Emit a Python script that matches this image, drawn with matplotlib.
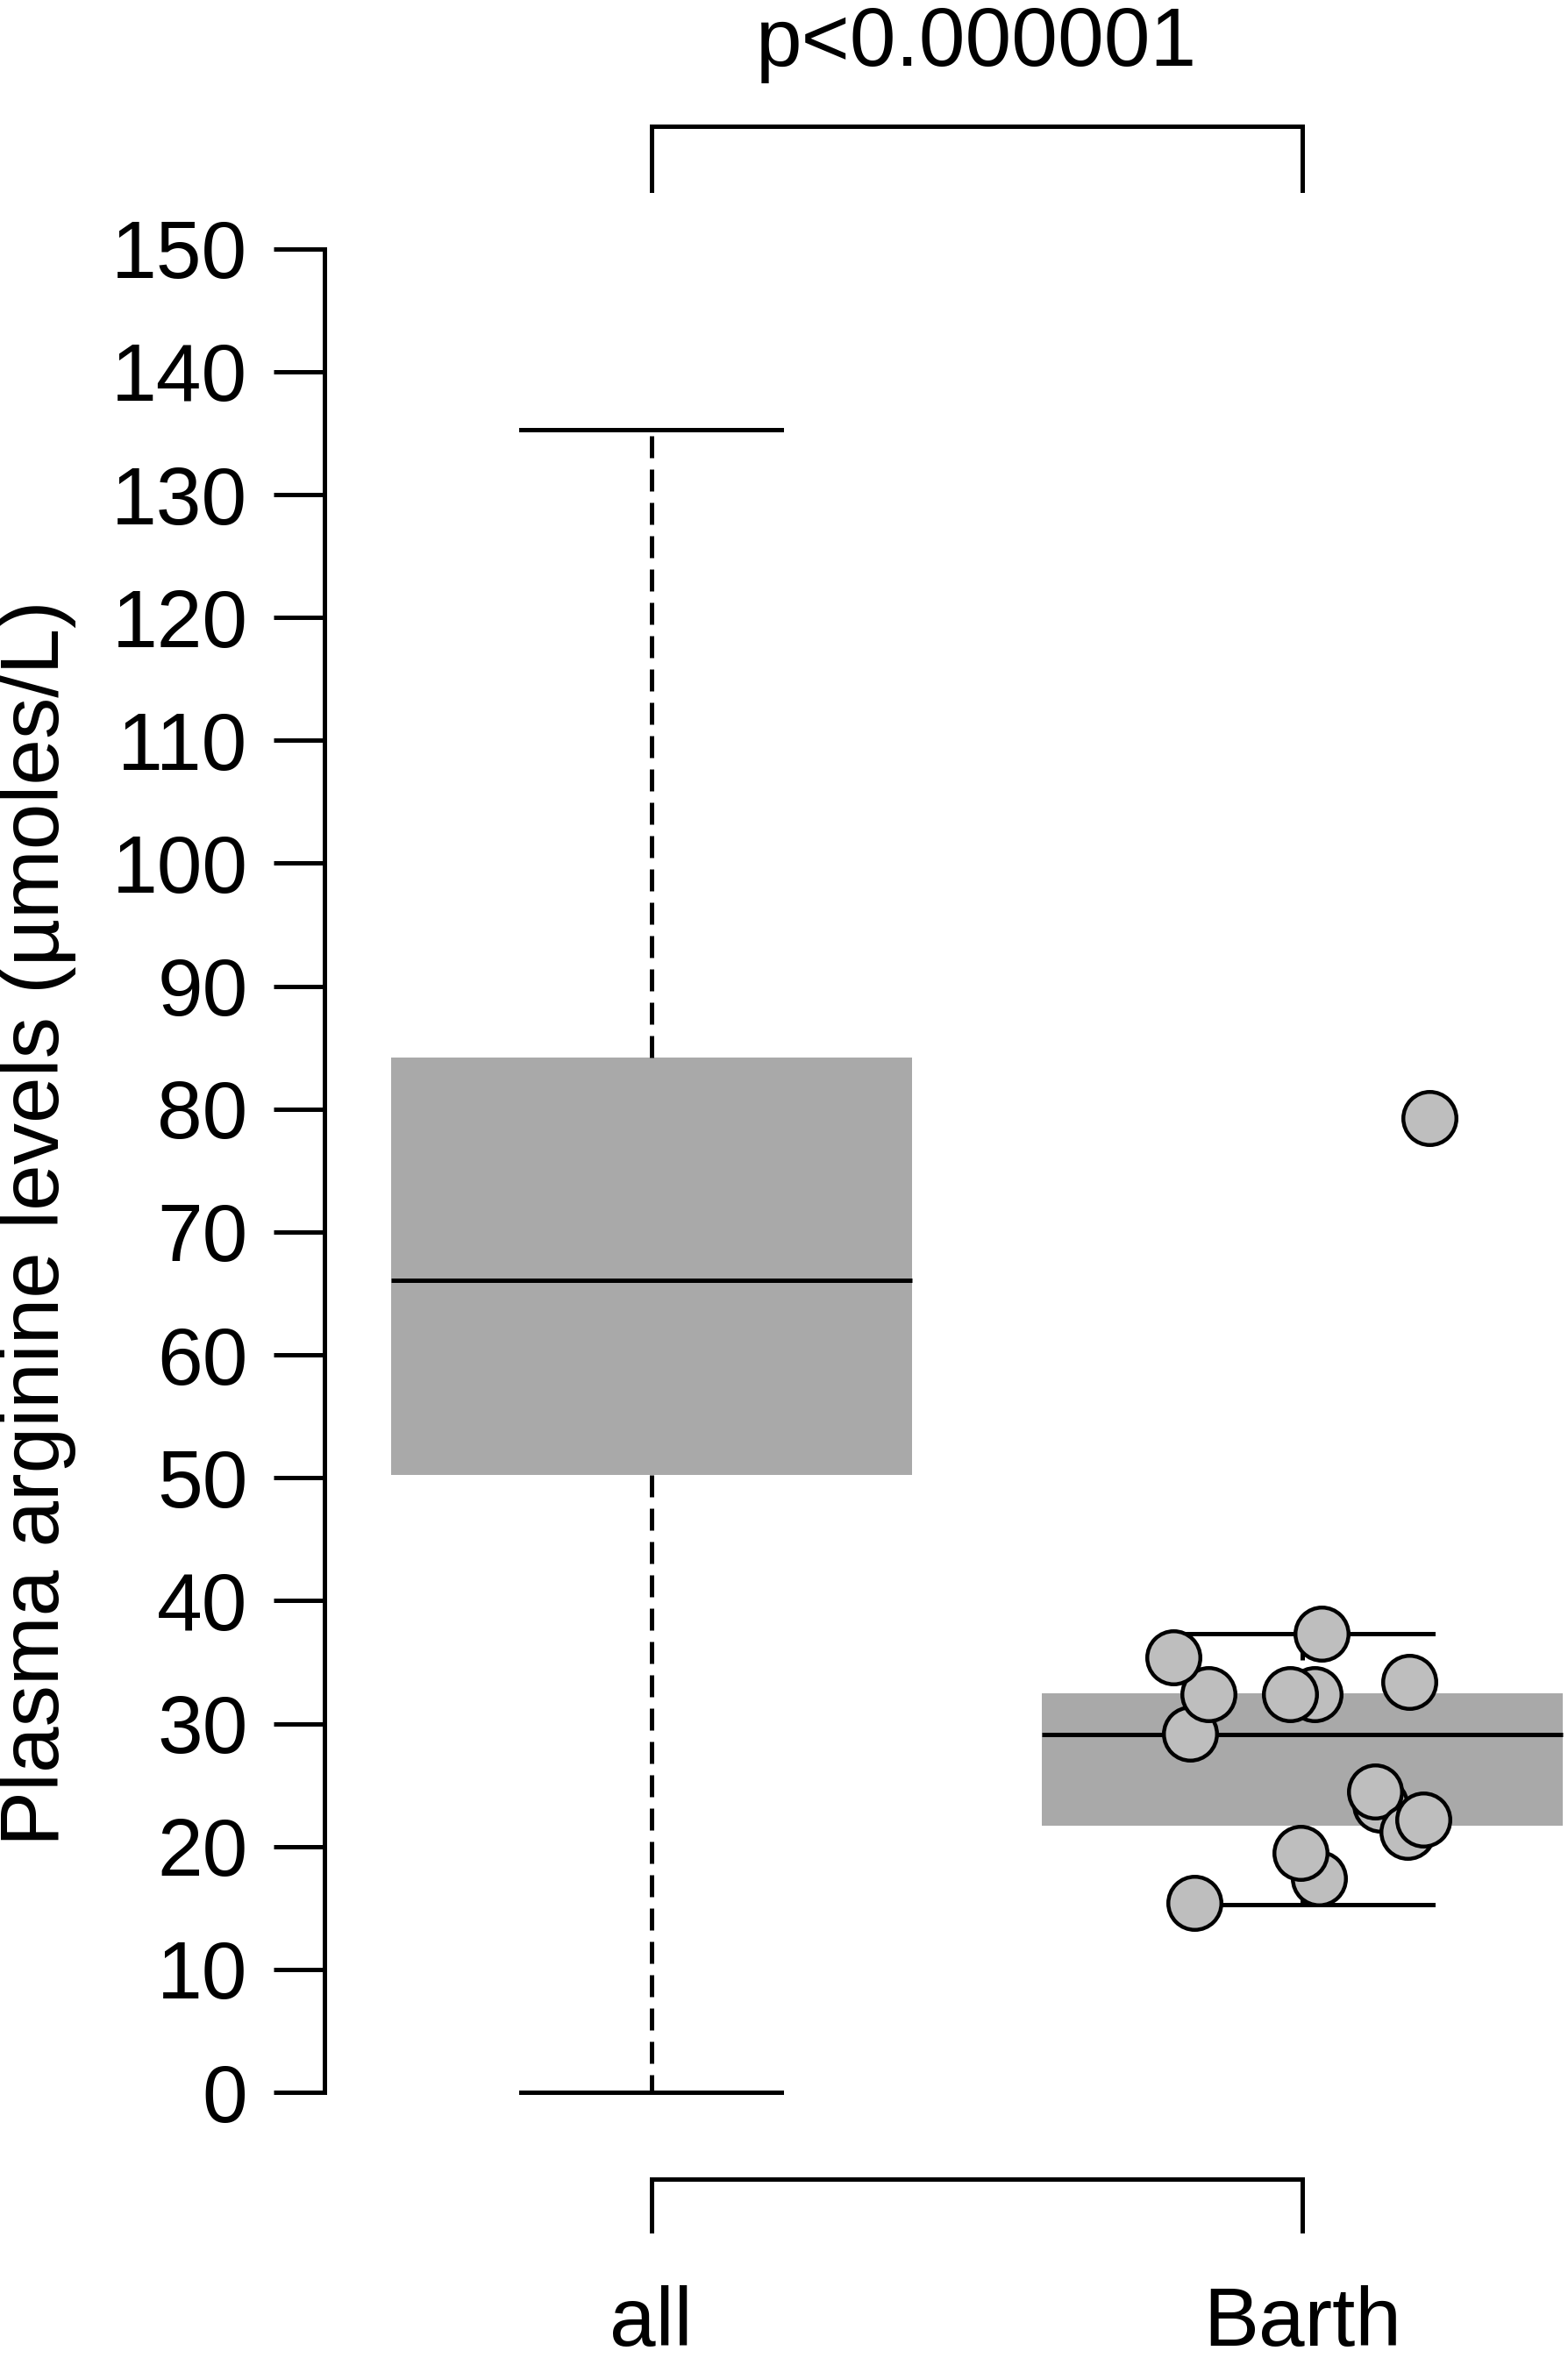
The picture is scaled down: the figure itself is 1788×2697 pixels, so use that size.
import matplotlib
matplotlib.use("Agg")
import matplotlib.pyplot as plt

plt.rcParams['font.family'] = ['Liberation Sans', 'DejaVu Sans']

# ---- data ----
groups = ["all", "Barth"]
# five-number summaries: whisker low, Q1, median, Q3, whisker high
all_stats = [0.0, 50.2, 66.1, 84.2, 135.3]
barth_stats = [15.3, 21.7, 29.1, 32.5, 37.3]
# individual Barth points (jitter offset from group centre, value)
barth_jitter = [0.019, -0.019, -0.173, -0.144, -0.198, 0.164, 0.030,
                0.120, 0.111, 0.162, 0.185, 0.025, -0.003, -0.166, 0.195]
barth_values = [32.4, 32.4, 29.2, 32.4, 35.4, 33.4, 37.3,
                23.4, 24.5, 21.2, 22.2, 17.4, 19.5, 15.4, 79.3]
y_ticks = list(range(0, 151, 10))
p_text = "p<0.000001"
y_label = "Plasma arginine levels (\u00b5moles/L)"

LW = 3.6
BOX = "#A9A9A9"
PT = "#BEBEBE"

fig = plt.figure(figsize=(17.88, 26.97), dpi=100)
ax = fig.add_axes([370 / 1788, 0.0893, 1 - 370 / 1788, 0.8315])
ax.set_xlim(0.4982, 2.4078)
ax.set_ylim(-5, 155)

stats = []
for name, s in zip(groups, [all_stats, barth_stats]):
    stats.append(dict(label=name, whislo=s[0], q1=s[1], med=s[2], q3=s[3], whishi=s[4]))

ax.bxp(stats, positions=[1, 2], widths=0.8, capwidths=0.4, patch_artist=True,
       showfliers=False,
       boxprops=dict(facecolor=BOX, edgecolor="none", linewidth=0),
       medianprops=dict(color="black", linewidth=LW),
       whiskerprops=dict(color="black", linewidth=LW, linestyle=(0, (5, 2.6))),
       capprops=dict(color="black", linewidth=LW),
       manage_ticks=False, zorder=2)

xs = [2 + j for j in barth_jitter]
ax.scatter(xs, barth_values, s=1900, facecolor=PT, edgecolor="black",
           linewidths=3.2, zorder=3, clip_on=False)

# axes styling
for side in ["top", "right", "bottom"]:
    ax.spines[side].set_visible(False)
ax.spines["left"].set_bounds(0, 150)
ax.spines["left"].set_linewidth(LW)
ax.set_yticks(y_ticks)
ax.set_yticklabels([str(t) for t in y_ticks])
ax.tick_params(axis="y", length=42, width=LW, pad=21, labelsize=67)
ax.set_xticks([])

# group labels
for i, name in enumerate(groups):
    ax.text(i + 1, -22.05, name, ha="center", va="bottom", fontsize=68, clip_on=False)

# significance brackets
ax.plot([1, 1, 2, 2], [154.75, 160.0, 160.0, 154.75], color="black", lw=LW,
        clip_on=False, solid_joinstyle="miter")
ax.plot([1, 1, 2, 2], [-11.3, -7.06, -7.06, -11.3], color="black", lw=LW,
        clip_on=False, solid_joinstyle="miter")
ax.text(1.5, 164.9, p_text, ha="center", va="baseline", fontsize=68, clip_on=False)

fig.text(43 / 1788, 1 - 1395 / 2697, y_label, rotation=90, ha="center", va="center",
         fontsize=68)

fig.savefig("out.png", dpi=100)
